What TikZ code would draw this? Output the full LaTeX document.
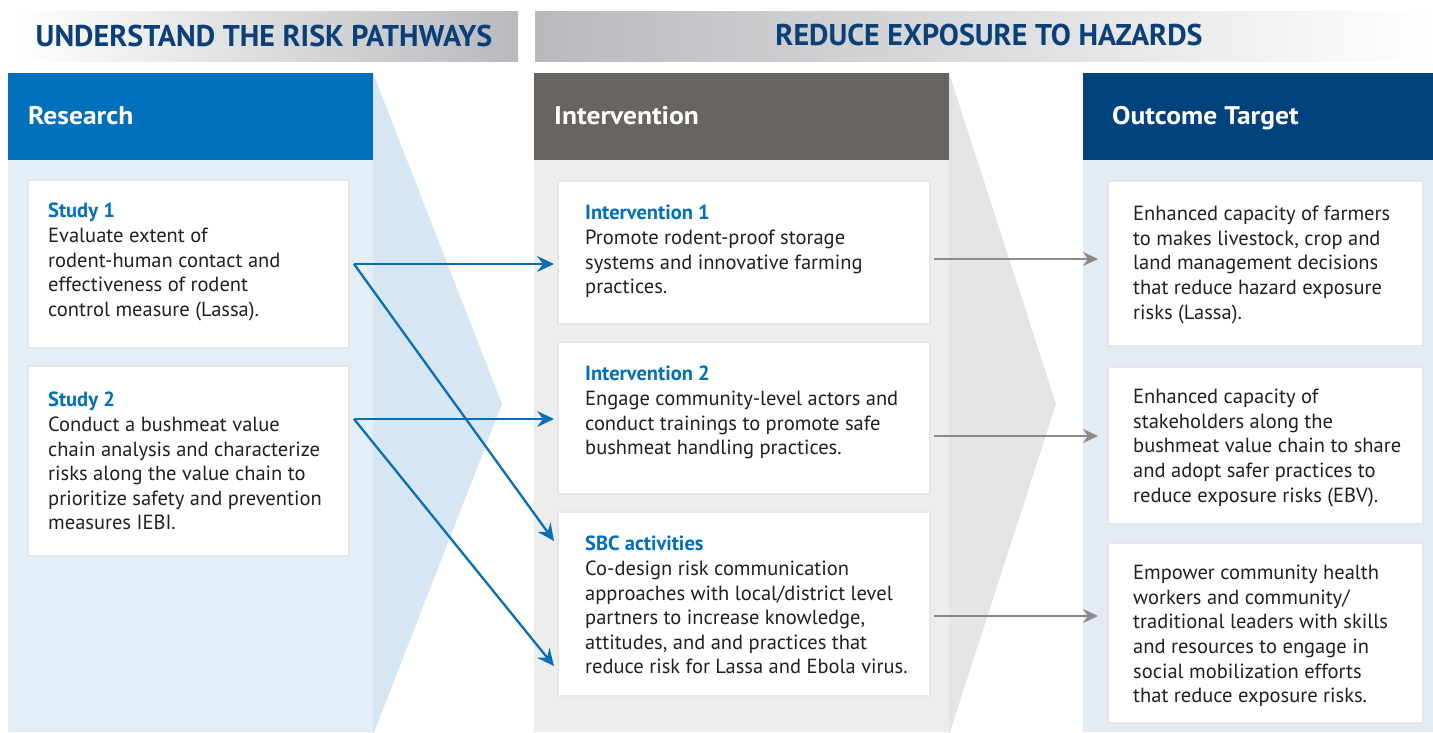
\documentclass[tikz,border=0pt]{standalone}
\usepackage{fontspec}
\setmainfont{PT Sans}
\newfontfamily\bandfont{PT Sans}
\newfontfamily\headfont[FakeStretch=1.08]{PT Sans}
\usetikzlibrary{arrows.meta}

\definecolor{bandgray}{HTML}{B7B9BC}
\definecolor{bandink}{HTML}{0B3F78}
\definecolor{resblue}{HTML}{0070BA}
\definecolor{respanel}{HTML}{E4EEF7}
\definecolor{reschev}{HTML}{D6E7F3}
\definecolor{intgray}{HTML}{686462}
\definecolor{intpanel}{HTML}{EDEDED}
\definecolor{intchev}{HTML}{E4E4E4}
\definecolor{outblue}{HTML}{00427E}
\definecolor{outpanel}{HTML}{E5EBF3}
\definecolor{cardline}{HTML}{E6E6E6}
\definecolor{ink}{HTML}{231F20}
\definecolor{arrowblue}{HTML}{0A6EB4}
\definecolor{arrowgray}{HTML}{8A8A8A}

\begin{document}
\begin{tikzpicture}[x=1pt, y=-1pt,
  card/.style={anchor=north west, inner sep=0pt, outer sep=0pt, fill=white, draw=cardline, line width=2pt},
  cardtext/.style={anchor=north west, inner sep=0pt, align=left, text=ink, font=\fontsize{20.5}{24.6}\selectfont},
  headtext/.style={anchor=base west, inner sep=0pt, text=white, font=\headfont\fontsize{25.5}{30}\selectfont\bfseries},
  bandtext/.style={inner sep=0pt, text=bandink, font=\bandfont\fontsize{30}{34}\selectfont\bfseries},
  linkblue/.style={draw=arrowblue, line width=2.3pt, -{Stealth[length=17pt, width=16pt, inset=6pt]}},
  linkgray/.style={draw=arrowgray, line width=2.6pt, -{Stealth[length=15pt, width=14pt, inset=5pt]}}]
\useasboundingbox (0,0) rectangle (1433,732);

% top bands
\shade[left color=white, right color=bandgray] (15,11) rectangle (518,61);
\shade[left color=bandgray, right color=white] (535,11) rectangle (1433,61);
\node[bandtext] (band1) at (264,36) {UNDERSTAND THE RISK PATHWAYS};
\node[bandtext] (band2) at (989,35) {REDUCE EXPOSURE TO HAZARDS};

% research column
\fill[respanel] (8,160) rectangle (373,732);
\fill[reschev] (373,73) -- (502,404) -- (373,735) -- cycle;
\fill[resblue] (8,73) rectangle (373,160);
\node[headtext] (reshd) at (28,124) {Research};

% intervention column
\fill[intpanel] (534,160) rectangle (949,732);
\fill[intchev] (949,73) -- (1056,404) -- (949,735) -- cycle;
\fill[intgray] (534,73) rectangle (949,160);
\node[headtext] (inthd) at (554,124) {Intervention};

% outcome column
\fill[outpanel] (1083,160) rectangle (1433,732);
\fill[outblue] (1083,73) rectangle (1433,160);
\node[headtext] (outhd) at (1112,124) {Outcome Target};

% studies
\node[card, minimum width=321, minimum height=168] (s1) at (28,180) {};
\node[cardtext] (s1txt) at (48,203) {\textcolor{resblue}{\bfseries Study 1}\\
Evaluate extent of\\
rodent-human contact and\\
effectiveness of rodent\\
control measure (Lassa).};
\node[card, minimum width=321, minimum height=190] (s2) at (28,366) {};
\node[cardtext] (s2txt) at (48,392) {\textcolor{resblue}{\bfseries Study 2}\\
Conduct a bushmeat value\\
chain analysis and characterize\\
risks along the value chain to\\
prioritize safety and prevention\\
measures IEBI.};

% interventions
\node[card, minimum width=372, minimum height=143] (i1) at (558,181) {};
\node[cardtext] (i1txt) at (585,205) {\textcolor{resblue}{\bfseries Intervention 1}\\
Promote rodent-proof storage\\
systems and innovative farming\\
practices.};
\node[card, minimum width=372, minimum height=152] (i2) at (558,342) {};
\node[cardtext] (i2txt) at (585,366) {\textcolor{resblue}{\bfseries Intervention 2}\\
Engage community-level actors and\\
conduct trainings to promote safe\\
bushmeat handling practices.};
\node[card, minimum width=372, minimum height=184] (sbc) at (558,512) {};
\node[cardtext] (sbctxt) at (585,536) {\textcolor{resblue}{\bfseries SBC activities}\\
Co-design risk communication\\
approaches with local/district level\\
partners to increase knowledge,\\
attitudes, and and practices that\\
reduce risk for Lassa and Ebola virus.};

% outcomes
\node[card, minimum width=315, minimum height=165] (o1) at (1108,181) {};
\node[cardtext] (o1txt) at (1133,206) {Enhanced capacity of farmers\\
to makes livestock, crop and\\
land management decisions\\
that reduce hazard exposure\\
risks (Lassa).};
\node[card, minimum width=315, minimum height=157] (o2) at (1108,367) {};
\node[cardtext] (o2txt) at (1133,389) {Enhanced capacity of\\
stakeholders along the\\
bushmeat value chain to share\\
and adopt safer practices to\\
reduce exposure risks (EBV).};
\node[card, minimum width=315, minimum height=180] (o3) at (1108,543) {};
\node[cardtext] (o3txt) at (1133,565) {Empower community health\\
workers and community/\\
traditional leaders with skills\\
and resources to engage in\\
social mobilization efforts\\
that reduce exposure risks.};

% link start points
\coordinate (s1out) at ([xshift=5pt]s1.east);
\coordinate (s2out) at ([shift={(5pt,-53pt)}]s2.north east);
\coordinate (i1out) at ([shift={(4pt,-78pt)}]i1.north east);
\coordinate (i2out) at ([shift={(4pt,-94pt)}]i2.north east);
\coordinate (sbcout) at ([shift={(4pt,-104pt)}]sbc.north east);

% research -> interventions
\draw[linkblue] (s1out) -- ([xshift=-4pt]i1.west |- s1out);
\draw[linkblue] (s1out) -- ([shift={(-4pt,-29pt)}]sbc.north west);
\draw[linkblue] (s2out) -- ([xshift=-4pt]i2.west |- s2out);
\draw[linkblue] (s2out) -- ([shift={(-4pt,30pt)}]sbc.south west);

% interventions -> outcomes
\draw[linkgray] (i1out) -- ([xshift=-10pt]o1.west |- i1out);
\draw[linkgray] (i2out) -- ([xshift=-10pt]o2.west |- i2out);
\draw[linkgray] (sbcout) -- ([xshift=-10pt]o3.west |- sbcout);
\end{tikzpicture}
\end{document}
